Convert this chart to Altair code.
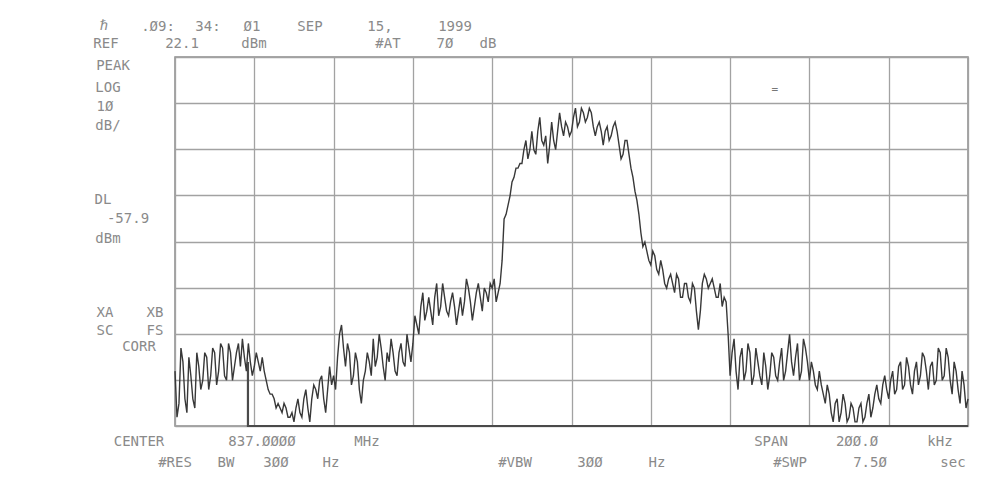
import altair as alt
import pandas as pd

# ---- data: analyzer trace, offset from 837.0000 MHz in kHz ----
# readings on whole-kHz sweep points
freq_khz = list(range(-100, 101))
level_dbm = [
    -46, -53, -44, -55, -47, -54, -45, -48, -43, -47,
    -42, -46, -41, -48, -42, -45, -40, -39, -46, -44,
    -45, -44, -43, -48, -51, -52, -53, -55, -54, -56,
    -57, -52, -56, -50, -57, -49, -52, -47, -55, -45,
    -47, -43, -36, -45, -42, -47, -44, -53, -46, -44,
    -39, -43, -41, -48, -44, -42, -47, -40, -45, -41,
    -40, -36, -32, -35, -30, -36, -27, -32, -30, -34,
    -29, -36, -30, -31, -28, -35, -29, -30, -28, -31,
    -28, -31, -27, -13, -10, -5, -2, -1, 2, 0,
    6, 1, 9, 3, -1, 8, 2, 10, 5, 7,
    6, 11, 8, 10, 9, 10, 5, 8, 3, 7,
    5, 8, 3, 1, 4, -2, -7, -12, -19, -20,
    -23, -21, -25, -24, -28, -25, -29, -26, -30, -27,
    -31, -28, -37, -27, -26, -27, -28, -30, -32, -31,
    -47, -39, -50, -41, -46, -42, -47, -44, -49, -45,
    -47, -43, -48, -41, -46, -38, -47, -40, -46, -41,
    -48, -46, -50, -49, -53, -51, -57, -52, -55, -53,
    -56, -54, -57, -53, -56, -51, -54, -49, -53, -47,
    -52, -46, -50, -44, -49, -45, -51, -44, -47, -43,
    -50, -44, -48, -42, -47, -43, -51, -46, -53, -49, -52,
]
# readings on the half-kHz sweep points in between (-99.5 ... 99.5)
freq_mid_khz = [k + 0.5 for k in range(-100, 100)]
level_mid_dbm = [
    -56, -41, -52, -43, -52, -42, -50, -42, -50, -41,
    -49, -40, -47, -40, -48, -42, -45, -43, -40, -47,
    -42, -46, -46, -50, -51, -54, -54, -53, -56, -55,
    -54, -55, -52, -54, -52, -50, -48, -52, -50, -49,
    -50, -38, -41, -40, -49, -42, -50, -48, -42, -47,
    -45, -38, -45, -42, -39, -46, -42, -44, -38, -44,
    -34, -38, -29, -33, -33, -30, -34, -27, -33, -31,
    -32, -33, -34, -26, -31, -32, -27, -33, -29, -27,
    -26, -29, -22, -12, -8, -4, -2, -1, 4, 2,
    2, 6, 4, 5, 3, 4, 6, 7, 8, 5,
    9, 7, 11, 8, 11, 7, 7, 6, 6, 4,
    7, 6, 0, 4, 1, -4, -9, -16, -18, -22,
    -20, -24, -22, -27, -26, -27, -25, -30, -27, -30,
    -27, -33, -33, -25, -28, -26, -30, -27, -30, -38,
    -42, -46, -43, -48, -40, -49, -41, -47, -42, -50,
    -42, -47, -44, -48, -42, -44, -43, -48, -39, -44,
    -44, -49, -46, -51, -49, -55, -53, -57, -51, -57,
    -53, -57, -54, -57, -53, -56, -51, -52, -49, -50,
    -48, -51, -45, -50, -43, -49, -46, -49, -42, -46,
    -45, -49, -41, -48, -41, -48, -44, -50, -46, -54,
]

ref_level = 22.1          # REF 22.1 dBm, top of screen
display_line = -57.9      # DL -57.9 dBm
grid_x = [-100, -80, -60, -40, -20, 0, 20, 40, 60, 80, 100]
grid_y = [-57.9, -47.9, -37.9, -27.9, -17.9, -7.9, 2.1, 12.1, 22.1]

dl_x = [-81.6, -81.6, 100]
dl_y = [-44, -57.9, -57.9]

marker_x = [51.3]
marker_y = [14.9]

# screen annotations: text, page x (center), page y (center)
labels = [
    ("ℏ", 104, 26), (".Ø9:", 158, 27), ("34:", 208, 27), ("Ø1", 252, 27),
    ("SEP", 310, 27), ("15,", 380, 27), ("1999", 455, 27),
    ("REF", 106, 44), ("22.1", 182, 44), ("dBm", 254, 44),
    ("#AT", 388, 44), ("7Ø", 445, 44), ("dB", 488, 44),
    ("PEAK", 113, 66), ("LOG", 108, 88), ("1Ø", 105, 107), ("dB/", 108, 126),
    ("DL", 103, 200), ("-57.9", 128, 219), ("dBm", 108, 239),
    ("XA", 105, 313), ("XB", 155, 313), ("SC", 105, 331), ("FS", 155, 331),
    ("CORR", 139, 347),
    ("CENTER", 139, 442), ("837.ØØØØ", 262, 442), ("MHz", 367, 442),
    ("SPAN", 771, 442), ("2ØØ.Ø", 857, 442), ("kHz", 940, 442),
    ("#RES", 175, 463), ("BW", 226, 463), ("3ØØ", 276, 463), ("Hz", 331, 463),
    ("#VBW", 515, 463), ("3ØØ", 590, 463), ("Hz", 657, 463),
    ("#SWP", 790, 463), ("7.5Ø", 870, 463), ("sec", 953, 463),
]

PLOT_LEFT, PLOT_TOP = 175, 57
W, H = 793, 369

trace_df = pd.DataFrame({
    "freq": freq_khz + freq_mid_khz,
    "level": level_dbm + level_mid_dbm,
}).sort_values("freq").reset_index(drop=True)
dl_df = pd.DataFrame({"freq": dl_x, "level": dl_y, "order": list(range(len(dl_x)))})
mk_df = pd.DataFrame({"freq": marker_x, "level": marker_y})
lab_df = pd.DataFrame({
    "text": [t for t, _, _ in labels],
    "px": [x - PLOT_LEFT for _, x, _ in labels],
    "py": [y - PLOT_TOP for _, _, y in labels],
})

xscale = alt.Scale(domain=[-100, 100], nice=False, zero=False)
yscale = alt.Scale(domain=[display_line, ref_level], nice=False, zero=False)

grid_axis_x = alt.Axis(values=grid_x, grid=True, labels=False, ticks=False,
                       domain=False, title=None, gridColor="#a2a2a2", gridWidth=1.3)
grid_axis_y = alt.Axis(values=grid_y, grid=True, labels=False, ticks=False,
                       domain=False, title=None, gridColor="#a2a2a2", gridWidth=1.3)

trace = alt.Chart(trace_df).mark_line(color="#383838", strokeWidth=1.4).encode(
    x=alt.X("freq:Q", scale=xscale, axis=grid_axis_x),
    y=alt.Y("level:Q", scale=yscale, axis=grid_axis_y),
)

dl = alt.Chart(dl_df).mark_line(color="#4a4a4a", strokeWidth=2.2).encode(
    x=alt.X("freq:Q", scale=xscale, axis=None),
    y=alt.Y("level:Q", scale=yscale, axis=None),
    order="order:Q",
)

marker = alt.Chart(mk_df).mark_text(text="=", fontSize=11, color="#777777",
                                    font="DejaVu Sans Mono").encode(
    x=alt.X("freq:Q", scale=xscale, axis=None),
    y=alt.Y("level:Q", scale=yscale, axis=None),
)

texts = alt.Chart(lab_df).mark_text(font="DejaVu Sans Mono", fontSize=14,
                                    color="#8a8a8a", align="center",
                                    baseline="middle").encode(
    x=alt.X("px:Q", scale=None, axis=None),
    y=alt.Y("py:Q", scale=None, axis=None),
    text="text:N",
)

chart = alt.layer(trace, dl, marker, texts).resolve_scale(
    x="independent", y="independent"
).properties(
    width=W, height=H,
    padding={"left": PLOT_LEFT - 8, "top": PLOT_TOP - 8, "right": 6, "bottom": 55},
    autosize=alt.AutoSizeParams(type="none"),
    background="white",
).configure_view(stroke="#8a8a8a", strokeWidth=1.5)

chart.save("out.html", embed_options={"renderer": "svg", "actions": False})
